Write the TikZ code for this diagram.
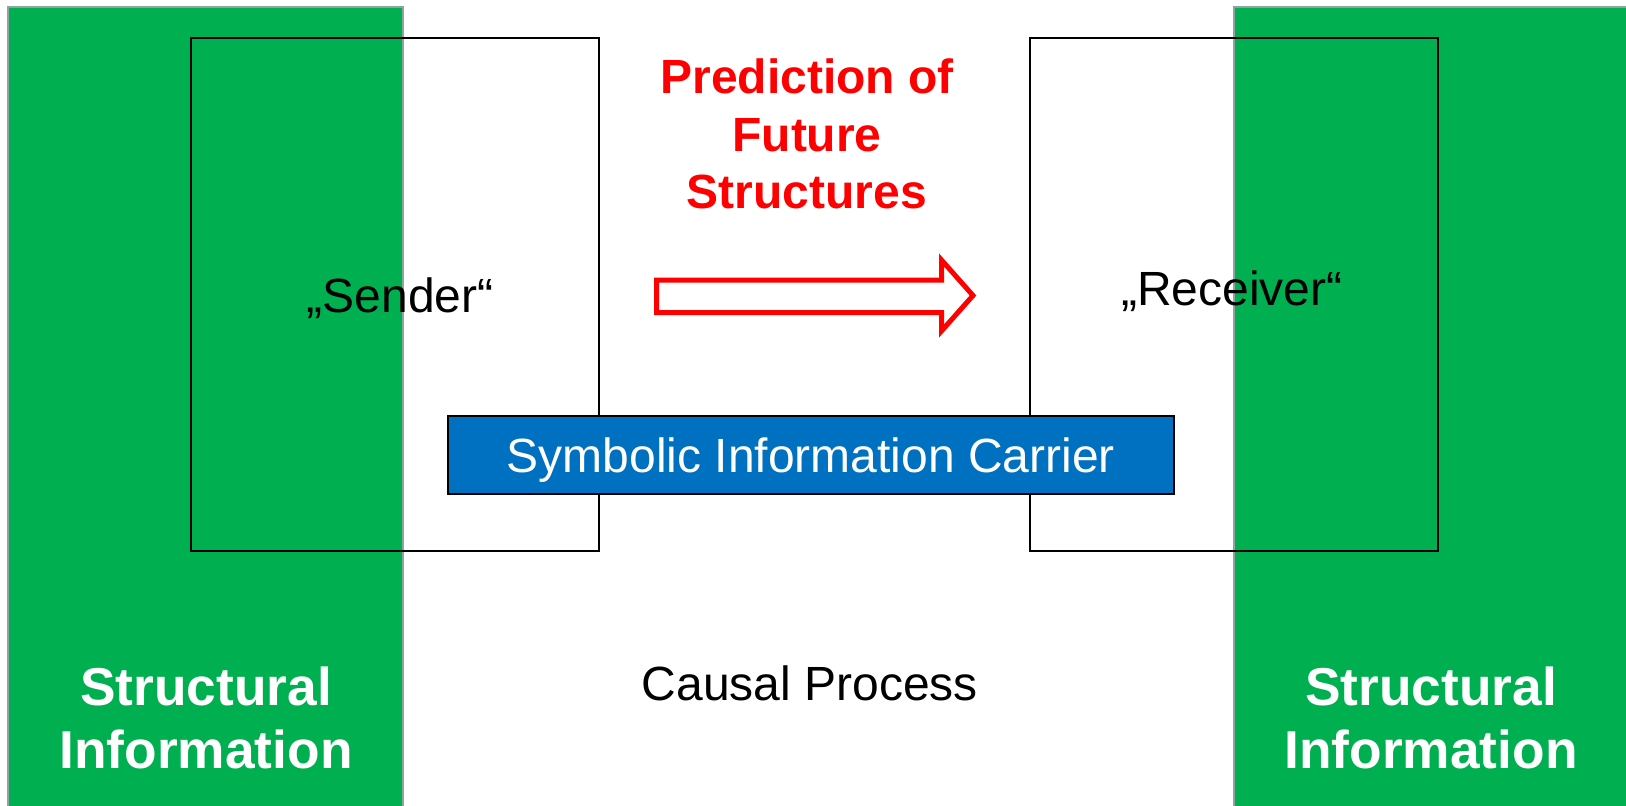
\documentclass[tikz,border=0pt]{standalone}
\usepackage{fontspec}
\setmainfont{Liberation Sans}
\definecolor{pgreen}{HTML}{00B050}
\definecolor{pgrey}{HTML}{8FA3A3}
\definecolor{pblue}{HTML}{0070C0}
\definecolor{pred}{HTML}{FF0000}
\tikzset{
  greenpanel/.style={fill=pgreen, draw=pgrey, line width=2.5pt},
  agentbox/.style={draw=black, line width=1.7pt},
  regtxt/.style={inner sep=0pt, anchor=base, font=\fontsize{48}{57}\selectfont},
  redtxt/.style={inner sep=0pt, anchor=base, text=pred, font=\fontsize{48}{57}\selectfont\bfseries},
  whitetxt/.style={inner sep=0pt, anchor=base, text=white, font=\fontsize{53.3}{63}\selectfont\bfseries},
  carrier/.style={fill=pblue, draw=black, line width=1.7pt, minimum width=726pt, minimum height=78pt, inner sep=0pt},
  bigarrow/.style={draw=pred, fill=white, line width=5pt, miter limit=10}
}
\begin{document}
\begin{tikzpicture}[x=1pt,y=-1pt]
\useasboundingbox (0,0) rectangle (1626,806);
% green panels
\draw[greenpanel] (8,7) rectangle (403,830);
\draw[greenpanel] (1234,7) rectangle (1650,830);
% sender / receiver boxes
\draw[agentbox] (191,38) rectangle (599,551);
\draw[agentbox] (1030,38) rectangle (1438,551);
% labels
\node[regtxt] (sender) at (400,312) {„Sender“};
\node[regtxt] (receiver) at (1232,305) {„Receiver“};
\node[regtxt] (causal) at (810,700) {Causal Process};
% prediction text
\node[redtxt] (pred1) at (807,93) {Prediction of};
\node[redtxt] (pred2) at (807,151) {Future};
\node[redtxt] (pred3) at (807,208) {Structures};
% big arrow
\draw[bigarrow] (656.5,280) -- (941.5,280) -- (941.5,260) -- (973,295.5) -- (941.5,331) -- (941.5,312.5) -- (656.5,312.5) -- cycle;
% symbolic information carrier
\node[carrier] (carrierbox) at (811,455) {};
\node[regtxt, text=white] (carriertxt) at (811,472) {Symbolic Information Carrier};
% structural information
\node[whitetxt] (sl1) at (206,705) {Structural};
\node[whitetxt] (sl2) at (206,768) {Information};
\node[whitetxt] (sr1) at (1431,705) {Structural};
\node[whitetxt] (sr2) at (1431,768) {Information};
\end{tikzpicture}
\end{document}
